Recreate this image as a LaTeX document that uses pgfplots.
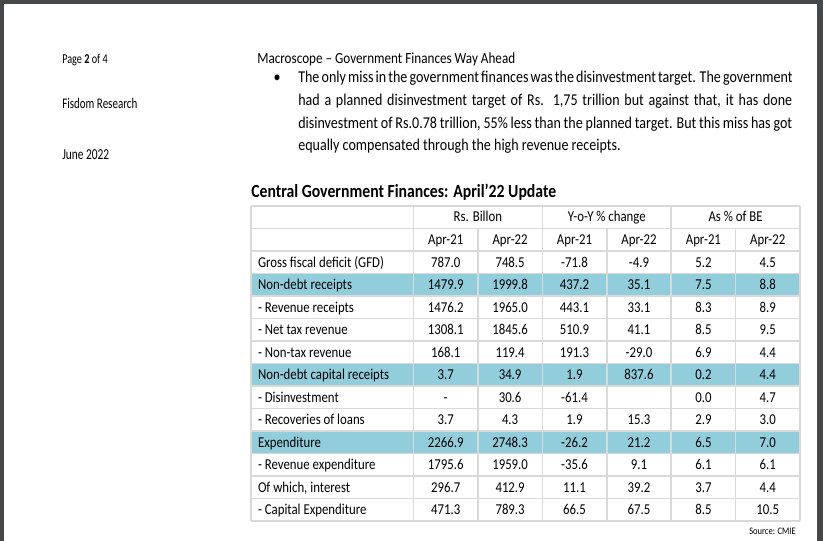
\documentclass[border=0pt]{standalone}
\usepackage{pgfplots}
\pgfplotsset{compat=1.18}
\usepackage{pgfplotstable}
\usepackage{fontspec}
\setmainfont{Carlito}[FakeStretch=0.85]
\newfontfamily\narrow{Carlito}[FakeStretch=0.75]
\definecolor{frame}{HTML}{45484B}
\definecolor{hl}{HTML}{92CDDC}
\definecolor{gridc}{HTML}{D9D9D9}
\newcommand\tf{\fontsize{11.3}{13}\selectfont}
\newcommand\pf{\fontsize{12.4}{14}\selectfont}
\pgfplotstableread[col sep=semicolon]{
label;a1;a2;b1;b2;c1;c2
Gross fiscal deficit (GFD);787.0;748.5;-71.8;-4.9;5.2;4.5
Non-debt receipts;1479.9;1999.8;437.2;35.1;7.5;8.8
- Revenue receipts;1476.2;1965.0;443.1;33.1;8.3;8.9
- Net tax revenue;1308.1;1845.6;510.9;41.1;8.5;9.5
- Non-tax revenue;168.1;119.4;191.3;-29.0;6.9;4.4
Non-debt capital receipts;3.7;34.9;1.9;837.6;0.2;4.4
- Disinvestment;-;30.6;-61.4;;0.0;4.7
- Recoveries of loans;3.7;4.3;1.9;15.3;2.9;3.0
Expenditure;2266.9;2748.3;-26.2;21.2;6.5;7.0
- Revenue expenditure;1795.6;1959.0;-35.6;9.1;6.1;6.1
Of which, interest;296.7;412.9;11.1;39.2;3.7;4.4
- Capital Expenditure;471.3;789.3;66.5;67.5;8.5;10.5
}\tbl
\pgfplotsset{tabcell/.style={draw=none, mark=none, nodes near coords,
  point meta=explicit symbolic, nodes near coords align=center,
  every node near coord/.append style={font=\tf, anchor=center, inner sep=0pt,
    text height=7.2pt, text depth=0pt, text=black}}}
\begin{document}
\begin{tikzpicture}
\begin{axis}[scale only axis, width=617.25pt, height=405.75pt,
  xmin=0, xmax=823, ymin=0, ymax=541, y dir=reverse,
  hide axis, clip=false]
% page frame
\fill[frame] (axis cs:0,0) rectangle (axis cs:823,541);
\fill[white] (axis cs:3.5,4) rectangle (axis cs:817,541);
% header texts
\node[anchor=base west, inner sep=0pt] at (axis cs:62,64)
  {\narrow\fontsize{10.2}{12}\selectfont Page \textbf{2} of 4};
\node[anchor=base west, inner sep=0pt] at (axis cs:62,109)
  {\narrow\fontsize{11}{12}\selectfont Fisdom Research};
\node[anchor=base west, inner sep=0pt] at (axis cs:62,160)
  {\narrow\fontsize{11.4}{12}\selectfont June 2022};
\node[anchor=base west, inner sep=0pt] at (axis cs:257,64)
  {\fontsize{11.6}{13}\selectfont Macroscope {\textendash} Government Finances Way Ahead};
% paragraph
\node[anchor=base, inner sep=0pt] at (axis cs:277,82.5) {\pf\textbullet};
\node[anchor=base west, inner sep=0pt] at (axis cs:298,82.5)
  {\pf\makebox[370.5pt][s]{The only miss in the government finances was the disinvestment target. The government}};
\node[anchor=base west, inner sep=0pt] at (axis cs:298,105.5)
  {\pf\makebox[370.5pt][s]{had a planned disinvestment target of Rs. 1,75 trillion but against that, it has done}};
\node[anchor=base west, inner sep=0pt] at (axis cs:298,128.5)
  {\pf\makebox[370.5pt][s]{disinvestment of Rs.0.78 trillion, 55\% less than the planned target. But this miss has got}};
\node[anchor=base west, inner sep=0pt] at (axis cs:298,151)
  {\pf equally compensated through the high revenue receipts.};
% title
\node[anchor=base west, inner sep=0pt] at (axis cs:251,198)
  {\fontsize{13.9}{16}\selectfont\bfseries Central Government Finances: April’22 Update};
% highlighted rows
\fill[hl] (axis cs:251,273.5) rectangle (axis cs:800,296);
\fill[hl] (axis cs:251,363.5) rectangle (axis cs:800,386);
\fill[hl] (axis cs:251,431) rectangle (axis cs:800,453.5);
% grid
\draw[gridc, line width=1.125pt]
  (axis cs:251,206) -- (axis cs:800,206)
  (axis cs:251,228.5) -- (axis cs:800,228.5)
  (axis cs:251,251) -- (axis cs:800,251)
  (axis cs:251,273.5) -- (axis cs:800,273.5)
  (axis cs:251,296) -- (axis cs:800,296)
  (axis cs:251,318.5) -- (axis cs:800,318.5)
  (axis cs:251,341) -- (axis cs:800,341)
  (axis cs:251,363.5) -- (axis cs:800,363.5)
  (axis cs:251,386) -- (axis cs:800,386)
  (axis cs:251,408.5) -- (axis cs:800,408.5)
  (axis cs:251,431) -- (axis cs:800,431)
  (axis cs:251,453.5) -- (axis cs:800,453.5)
  (axis cs:251,476) -- (axis cs:800,476)
  (axis cs:251,498.5) -- (axis cs:800,498.5)
  (axis cs:251,521) -- (axis cs:800,521)
  (axis cs:251,206) -- (axis cs:251,521)
  (axis cs:413.5,206) -- (axis cs:413.5,521)
  (axis cs:542.3,206) -- (axis cs:542.3,521)
  (axis cs:671.2,206) -- (axis cs:671.2,521)
  (axis cs:800,206) -- (axis cs:800,521)
  (axis cs:477.9,228.5) -- (axis cs:477.9,521)
  (axis cs:606.8,228.5) -- (axis cs:606.8,521)
  (axis cs:735.6,228.5) -- (axis cs:735.6,521);
% column headers
\node[anchor=base, inner sep=0pt, font=\tf] at (axis cs:477.9,221.8) {Rs. Billon};
\node[anchor=base, inner sep=0pt, font=\tf] at (axis cs:606.8,221.8) {Y-o-Y \% change};
\node[anchor=base, inner sep=0pt, font=\tf] at (axis cs:735.6,221.8) {As \% of BE};
\node[anchor=base, inner sep=0pt, font=\tf] at (axis cs:445.7,244.3) {Apr-21};
\node[anchor=base, inner sep=0pt, font=\tf] at (axis cs:510.1,244.3) {Apr-22};
\node[anchor=base, inner sep=0pt, font=\tf] at (axis cs:574.5,244.3) {Apr-21};
\node[anchor=base, inner sep=0pt, font=\tf] at (axis cs:639.0,244.3) {Apr-22};
\node[anchor=base, inner sep=0pt, font=\tf] at (axis cs:703.4,244.3) {Apr-21};
\node[anchor=base, inner sep=0pt, font=\tf] at (axis cs:767.8,244.3) {Apr-22};
% table body
\addplot[tabcell, every node near coord/.append style={text width=120pt, align=flush left}]
  table[x expr=338, y expr={206+22.5*(\coordindex+2.5)}, meta=label]{\tbl};
\addplot[tabcell] table[x expr=445.7, y expr={206+22.5*(\coordindex+2.5)}, meta=a1]{\tbl};
\addplot[tabcell] table[x expr=510.1, y expr={206+22.5*(\coordindex+2.5)}, meta=a2]{\tbl};
\addplot[tabcell] table[x expr=574.5, y expr={206+22.5*(\coordindex+2.5)}, meta=b1]{\tbl};
\addplot[tabcell] table[x expr=639.0, y expr={206+22.5*(\coordindex+2.5)}, meta=b2]{\tbl};
\addplot[tabcell] table[x expr=703.4, y expr={206+22.5*(\coordindex+2.5)}, meta=c1]{\tbl};
\addplot[tabcell] table[x expr=767.8, y expr={206+22.5*(\coordindex+2.5)}, meta=c2]{\tbl};
% source
\node[anchor=base east, inner sep=0pt] at (axis cs:796,534)
  {\fontsize{7.5}{9}\selectfont Source: CMIE};
\end{axis}
\end{tikzpicture}
\end{document}
